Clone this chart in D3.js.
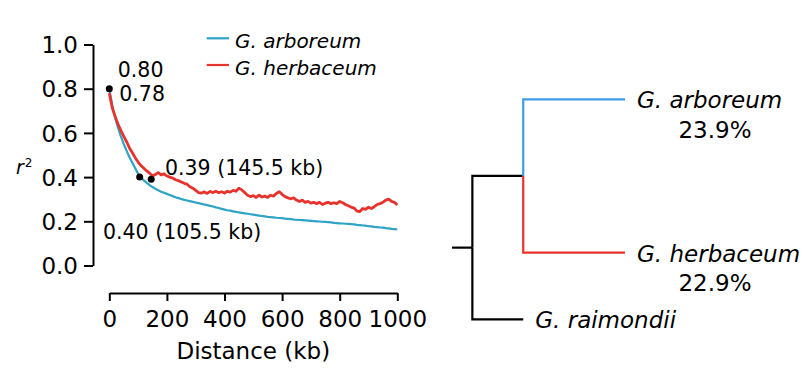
<!DOCTYPE html>
<html>
<head>
<meta charset="utf-8">
<script src="https://cdn.jsdelivr.net/npm/d3@7"></script>
<style>
  html, body { margin: 0; padding: 0; background: #fff; }
  svg { display: block; font-family: "DejaVu Sans", sans-serif; }
</style>
</head>
<body>
<svg id="chart" width="807" height="378"></svg>
<script>
// ---------------- data ----------------
const distances = [0,10,20,30,40,50,60,70,80,90,100,110,120,130,140,150,160,170,180,190,200,
  210,220,230,240,250,260,270,280,290,300,310,320,330,340,350,360,370,380,390,400,
  410,420,430,440,450,460,470,480,490,500,510,520,530,540,550,560,570,580,590,600,
  610,620,630,640,650,660,670,680,690,700,710,720,730,740,750,760,770,780,790,800,
  810,820,830,840,850,860,870,880,890,900,910,920,930,940,950,960,970,980,990,1000];

const arboreum = [0.800,0.725,0.670,0.625,0.585,0.550,0.520,0.490,0.465,0.440,0.415,0.397,0.385,0.374,0.364,0.355,0.347,0.340,0.334,0.329,0.324,
  0.319,0.314,0.309,0.305,0.301,0.297,0.294,0.291,0.288,0.285,0.282,0.279,0.276,0.273,0.270,0.267,0.263,0.260,0.256,0.253,
  0.250,0.248,0.245,0.243,0.240,0.238,0.236,0.234,0.232,0.230,0.228,0.226,0.224,0.222,0.220,0.219,0.218,0.216,0.215,0.214,
  0.212,0.211,0.210,0.208,0.207,0.206,0.205,0.204,0.203,0.202,0.201,0.200,0.199,0.198,0.197,0.196,0.195,0.193,0.192,0.191,
  0.190,0.189,0.188,0.187,0.186,0.184,0.183,0.181,0.180,0.178,0.177,0.175,0.174,0.172,0.171,0.169,0.168,0.166,0.165,0.163];

const herbaceum = [0.780,0.715,0.675,0.640,0.612,0.585,0.560,0.532,0.510,0.488,0.468,0.452,0.440,0.428,0.418,0.405,0.412,0.420,0.410,0.415,0.405,
  0.400,0.396,0.388,0.384,0.378,0.372,0.368,0.356,0.350,0.340,0.330,0.328,0.333,0.326,0.335,0.330,0.336,0.329,0.334,0.328,
  0.336,0.332,0.340,0.336,0.350,0.342,0.330,0.318,0.312,0.316,0.308,0.318,0.310,0.314,0.308,0.318,0.314,0.326,0.334,0.322,
  0.312,0.306,0.302,0.306,0.296,0.290,0.296,0.286,0.290,0.282,0.286,0.280,0.286,0.276,0.282,0.286,0.280,0.284,0.280,0.290,
  0.284,0.276,0.270,0.264,0.260,0.246,0.244,0.258,0.254,0.264,0.258,0.266,0.276,0.280,0.286,0.296,0.300,0.290,0.286,0.274];

const seriesNames = ["G. arboreum", "G. herbaceum"];
const xTicks = [0, 200, 400, 600, 800, 1000];
const yTicks = [0.0, 0.2, 0.4, 0.6, 0.8, 1.0];

// highlighted points: [distance, r2, label]
const markerDist = [0, 105.5, 145.5];
const markerR2 = [0.80, 0.40, 0.39];
const startLabels = ["0.80", "0.78"];
const halfLabels = ["0.40 (105.5 kb)", "0.39 (145.5 kb)"];

// phylogeny: branch lengths (arbitrary units) and tip rows
const tree = {
  name: "root", len: 0.2, children: [
    { name: "inner", len: 0.5, children: [
      { name: "G. arboreum", len: 1.0, row: 0.0, pct: "23.9%", color: "blue" },
      { name: "G. herbaceum", len: 1.0, row: 2.3, pct: "22.9%", color: "red" }
    ]},
    { name: "G. raimondii", len: 0.5, row: 3.3 }
  ]
};

// ---------------- style ----------------
const curveColors = ["#2ea3c5", "#e8322c"];
const treeColors = { blue: "#3e9be6", red: "#e8322c", black: "#000" };

const svg = d3.select("#chart");
svg.append("rect").attr("width", 807).attr("height", 378).attr("fill", "#fff");

// ---------------- LD decay chart ----------------
const x = d3.scaleLinear().domain([0, 1000]).range([109.3, 397.3]);
const y = d3.scaleLinear().domain([0, 1]).range([265.5, 44.5]);

const yAxis = svg.append("g").attr("transform", "translate(93,0)")
  .call(d3.axisLeft(y).tickValues(yTicks).tickFormat(d3.format(".1f")).tickSize(9).tickSizeOuter(0).tickPadding(6));
const xAxis = svg.append("g").attr("transform", "translate(0,293)")
  .call(d3.axisBottom(x).tickValues(xTicks).tickFormat(d3.format("d")).tickSize(8).tickSizeOuter(0));

[yAxis, xAxis].forEach(g => {
  g.selectAll("path, line").attr("stroke", "#000").attr("stroke-width", 2);
  g.selectAll("text").attr("fill", "#000").attr("font-size", 23).attr("font-family", "DejaVu Sans");
});
yAxis.selectAll("text").attr("dy", "0.36em");
xAxis.selectAll("text").attr("y", 34).attr("dy", null);

svg.append("text").attr("x", x(500)).attr("y", 359).attr("text-anchor", "middle")
  .attr("font-size", 23).text("Distance (kb)");

const r2 = svg.append("text").attr("x", 16).attr("y", 174).attr("font-size", 19).attr("font-style", "italic");
r2.append("tspan").text("r");
r2.append("tspan").attr("font-size", 12).attr("font-style", "normal").attr("dy", -7.3).attr("dx", 1).text("2");

const line = d3.line().x((d, i) => x(distances[i])).y(d => y(d));
[arboreum, herbaceum].forEach((vals, k) => {
  svg.append("path").datum(vals)
    .attr("fill", "none")
    .attr("stroke", curveColors[k])
    .attr("stroke-width", k === 0 ? 2.2 : 2.8)
    .attr("stroke-linejoin", "round")
    .attr("d", line);
});
// redraw blue start on top (it is on top at start)
svg.selectAll("circle.m").data(markerDist).enter().append("circle")
  .attr("cx", (d) => x(d)).attr("cy", (d, i) => y(markerR2[i])).attr("r", 3.5).attr("fill", "#000");

const annSize = 20.5;
svg.append("text").attr("x", x(0) + 8.5).attr("y", 77).attr("font-size", annSize).text(startLabels[0]);
svg.append("text").attr("x", x(0) + 10).attr("y", 101).attr("font-size", annSize).text(startLabels[1]);
svg.append("text").attr("x", 103).attr("y", 238.5).attr("font-size", annSize).text(halfLabels[0]);
svg.append("text").attr("x", 165).attr("y", 175).attr("font-size", annSize).text(halfLabels[1]);

// legend
const legend = svg.append("g");
seriesNames.forEach((name, k) => {
  const ly = 38.3 + k * 26.7;
  legend.append("line").attr("x1", 206.7).attr("x2", 229).attr("y1", ly).attr("y2", ly)
    .attr("stroke", curveColors[k]).attr("stroke-width", 2.2);
  legend.append("text").attr("x", 235).attr("y", ly + 10).attr("font-size", 20)
    .attr("font-style", "italic").text(name);
});

// ---------------- phylogeny ----------------
const root = d3.hierarchy(tree);
root.eachBefore(n => { n.depthLen = (n.parent ? n.parent.depthLen : 0) + n.data.len; });
root.eachAfter(n => { n.rowPos = n.children ? d3.mean(n.children, c => c.rowPos) : n.data.row; });

const xT = d3.scaleLinear().domain([0, 1.7]).range([452, 625]);
const yT = d3.scaleLinear().domain([0, 3.3]).range([99.3, 319.3]);

const tg = svg.append("g").attr("fill", "none").attr("stroke-width", 2.2);
// root stub
tg.append("path").attr("stroke", "#000")
  .attr("d", `M${xT(0)},${yT(root.rowPos)}H${xT(root.depthLen)}`);
root.links().forEach(l => {
  const s = l.source, t = l.target;
  tg.append("path")
    .attr("stroke", treeColors[t.data.color || "black"])
    .attr("d", `M${xT(s.depthLen)},${yT(s.rowPos)}V${yT(t.rowPos)}H${xT(t.depthLen)}`);
});

root.leaves().forEach(n => {
  svg.append("text").attr("x", xT(n.depthLen) + 12).attr("y", yT(n.rowPos) + 9)
    .attr("font-size", 23).attr("font-style", "italic").text(n.data.name);
  if (n.data.pct) {
    svg.append("text").attr("x", 715).attr("y", yT(n.rowPos) + 38.5)
      .attr("text-anchor", "middle").attr("font-size", 23).text(n.data.pct);
  }
});
</script>
</body>
</html>
